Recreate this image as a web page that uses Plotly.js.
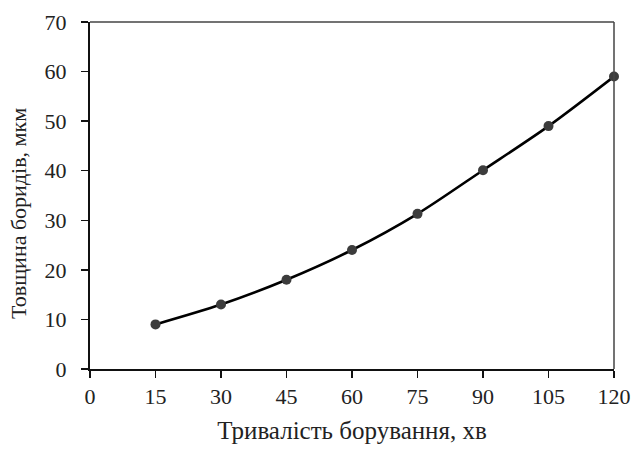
<!DOCTYPE html>
<html>
<head>
<meta charset="utf-8">
<script src="https://cdn.plot.ly/plotly-3.0.1.min.js"></script>
<style>html,body{margin:0;padding:0;background:#fff;}#chart{width:634px;height:452px;}</style>
</head>
<body>
<div id="chart"></div>
<script>
const durations = [15, 30, 45, 60, 75, 90, 105, 120];
const thickness = [9, 13, 18, 24, 31.3, 40.1, 49, 59];
const xTicks = [0, 15, 30, 45, 60, 75, 90, 105, 120];
const yTicks = [0, 10, 20, 30, 40, 50, 60, 70];
const xTitle = 'Тривалість борування, хв';
const yTitle = 'Товщина боридів, мкм';

const font = '"Liberation Serif", "Times New Roman", Times, serif';

const trace = {
  x: durations,
  y: thickness,
  type: 'scatter',
  mode: 'lines+markers',
  line: {color: '#000', width: 2.6, shape: 'spline', smoothing: 0.8},
  marker: {color: '#3c3c3c', size: 10},
  cliponaxis: false,
  hoverinfo: 'skip'
};

const labelTrace = {
  x: durations, y: thickness, yaxis: 'y2',
  type: 'scatter', mode: 'none', hoverinfo: 'skip', showlegend: false
};

const layout = {
  width: 634, height: 452,
  margin: {l: 90, r: 20, t: 22, b: 83},
  paper_bgcolor: '#fff', plot_bgcolor: '#fff',
  showlegend: false,
  font: {family: font, size: 22, color: '#222'},
  xaxis: {
    range: [0, 120], tickvals: xTicks, ticktext: xTicks.map(String),
    showgrid: false, zeroline: false,
    showline: true, linecolor: '#111', linewidth: 2,
    ticks: 'outside', ticklen: 7, tickwidth: 1.5, tickcolor: '#111',
    tickfont: {family: font, size: 22, color: '#222'},
    title: {text: xTitle, font: {family: font, size: 25, color: '#222'}, standoff: 13}
  },
  yaxis: {
    range: [0, 70], tickvals: yTicks,
    showgrid: false, zeroline: false,
    showline: true, linecolor: '#111', linewidth: 2,
    ticks: 'outside', ticklen: 7, tickwidth: 1.5, tickcolor: '#111',
    showticklabels: false
  },
  yaxis2: {
    overlaying: 'y', side: 'left', anchor: 'x',
    range: [0, 70], tickvals: yTicks, ticktext: yTicks.map(String),
    showgrid: false, zeroline: false, showline: false,
    ticks: 'outside', ticklen: 18, tickwidth: 1, tickcolor: 'rgba(0,0,0,0)',
    tickfont: {family: font, size: 22, color: '#222'}
  },
  shapes: [
    {type: 'line', xref: 'paper', yref: 'paper', x0: 0, x1: 1, y0: 1, y1: 1, line: {color: '#444', width: 1.5}},
    {type: 'line', xref: 'paper', yref: 'paper', x0: 1, x1: 1, y0: 0, y1: 1, line: {color: '#444', width: 1.5}}
  ],
  annotations: [{
    text: yTitle, textangle: -90,
    xref: 'paper', yref: 'paper',
    x: -71 / 524, y: (452 - 83 - 214) / 347,
    xanchor: 'center', yanchor: 'middle', showarrow: false,
    font: {family: font, size: 22, color: '#222'}
  }]
};

Plotly.newPlot('chart', [labelTrace, trace], layout, {displayModeBar: false, staticPlot: true});
</script>
</body>
</html>
